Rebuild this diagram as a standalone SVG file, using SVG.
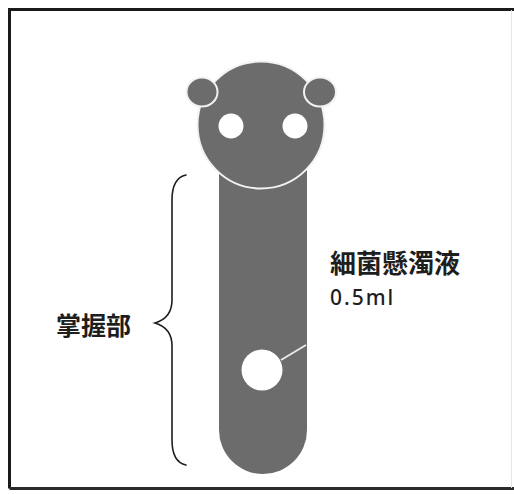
<svg xmlns="http://www.w3.org/2000/svg" width="514" height="495" viewBox="0 0 514 495">
  <style>
    .body { fill: #6c6c6c; }
    .rim { fill: #6c6c6c; stroke: #f2f2f2; stroke-width: 2; }
    .hole { fill: #ffffff; }
    .label { font-family: "Noto Sans CJK JP", "Noto Sans", sans-serif; font-weight: bold; fill: #1e1e1e; }
    .num { font-family: "Noto Sans", "Open Sans", sans-serif; font-weight: 500; fill: #1e1e1e; }
    .brace { fill: none; stroke: #1e1e1e; stroke-width: 1.6; stroke-linecap: round; }
  </style>
  <rect width="514" height="495" fill="#ffffff"/>
  <!-- frame -->
  <path d="M9.5 488.5 V9.5 H514" fill="none" stroke="#1a1a1a" stroke-width="3"/>
  <path d="M9.5 488.5 H514" fill="none" stroke="#2a2a2a" stroke-width="3"/>
  <line x1="511.5" y1="10" x2="511.5" y2="488" stroke="#e6e6e6" stroke-width="1"/>

  <!-- handle -->
  <g id="handle">
    <path class="body" d="M219 160 H307 V430 A44 44 0 0 1 219 430 Z"/>
    <line x1="281" y1="360" x2="306" y2="345" stroke="#e8e8e8" stroke-width="2"/>
    <circle class="hole" cx="262" cy="370" r="20.5"/>
  </g>

  <!-- head with ears and eyes -->
  <g id="head">
    <circle class="rim" cx="261" cy="125" r="63.5"/>
    <ellipse class="rim" cx="202" cy="92" rx="15.5" ry="14.5"/>
    <ellipse class="rim" cx="320" cy="92" rx="16" ry="14.5"/>
    <circle class="hole" cx="231" cy="126" r="12.5"/>
    <circle class="hole" cx="295" cy="126" r="12.5"/>
  </g>

  <!-- grip range brace -->
  <g id="grip-brace">
    <path class="brace" d="M186 175 Q172 178 172 200 V300 Q172 318 155 323 Q172 328 172 346 V440 Q172 462 186 465"/>
  </g>

  <g id="grip-label">
    <text class="label" x="56" y="335" font-size="25">掌握部</text>
  </g>

  <g id="suspension-label">
    <text class="label" x="330" y="273" font-size="26">細菌懸濁液</text>
    <text class="num" x="330" y="305" font-size="21" letter-spacing="2">0.5ml</text>
  </g>
</svg>
